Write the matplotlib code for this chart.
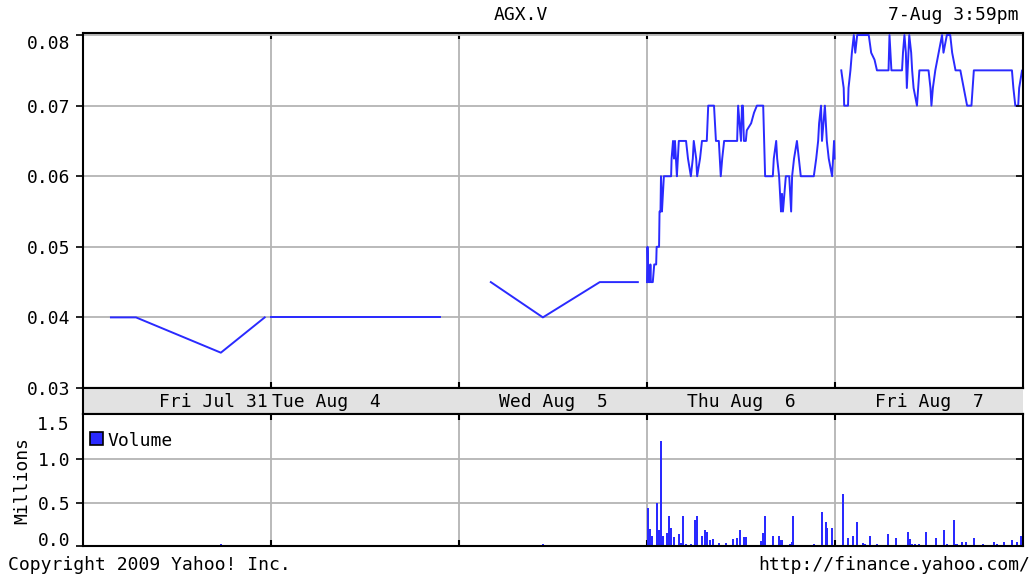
import numpy as np
import matplotlib.pyplot as plt
from matplotlib.patches import Rectangle

# trade times are minutes after the 9:30 open, one list per trading day
day_names = ["Fri Jul 31", "Tue Aug  4", "Wed Aug  5", "Thu Aug  6", "Fri Aug  7"]
session_len = 390

jul31_t = [58, 110, 286, 377]
jul31_p = [0.04, 0.04, 0.035, 0.04]
aug4_t = [0, 350]
aug4_p = [0.04, 0.04]
aug5_t = [66, 174, 292, 371]
aug5_p = [0.045, 0.04, 0.045, 0.045]
aug6_t = [0, 1, 3, 6, 7, 8, 12, 15, 19, 20, 25, 26, 28, 29, 31, 33, 35, 41, 50, 51,
          54, 56, 58, 60, 62, 66, 81, 85, 91, 95, 97, 102, 104, 110, 114, 124, 127, 139, 141, 143,
          149, 153, 156, 160, 187, 189, 195, 197, 199, 201, 205, 207, 216, 222, 228, 241, 243, 245, 261, 263,
          268, 270, 274, 278, 280, 282, 288, 295, 299, 301, 305, 311, 315, 319, 346, 351, 355, 357, 361, 363,
          369, 373, 377, 384, 388, 389]
aug6_p = [.045, .05, .045, .045, .0475, .045, .045, .0475, .0475, .05,
          .05, .055, .055, .06, .055, .0575, .06, .06, .06, .0625,
          .065, .0625, .065, .0625, .06, .065, .065, .0625, .06, .0625,
          .065, .0625, .06, .0625, .065, .065, .07, .07, .0675, .065,
          .065, .06, .0625, .065, .065, .07, .065, .07, .07, .065,
          .065, .0665, .0675, .069, .07, .07, .065, .06, .06, .0625,
          .065, .0625, .06, .055, .0575, .055, .06, .06, .055, .06,
          .0625, .065, .0625, .06, .06, .0625, .065, .0675, .07, .065,
          .07, .065, .0625, .06, .065, .0625]
aug7_t = [13, 18, 19, 27, 28, 32, 35, 39, 42, 46, 70, 75, 82, 87, 111, 113, 117, 139, 141, 144,
          147, 149, 154, 158, 160, 163, 170, 175, 194, 198, 200, 203, 208, 215, 222, 225, 232, 239, 243, 250,
          260, 267, 274, 283, 288, 367, 370, 374, 380, 382, 388, 390]
aug7_p = [.075, .0725, .07, .07, .0725, .075, .0775, .08, .0775, .08,
          .08, .0775, .0765, .075, .075, .08, .075, .075, .0775, .08,
          .0775, .0725, .08, .0775, .075, .0725, .07, .075, .075, .0725,
          .07, .0725, .075, .0775, .08, .0775, .08, .08, .0775, .075,
          .075, .0725, .07, .07, .075, .075, .0725, .07, .07, .0725,
          .075, .075]

# volume in millions
jul31_vt = [58, 70, 286]
jul31_v = [0.01, 0.01, 0.02]
aug4_vt = [350]
aug4_v = [0.01]
aug5_vt = [174]
aug5_v = [0.02]
aug6_vt = [3, 6, 10, 20, 25, 30, 33, 42, 46, 50, 55, 66, 70, 75, 80, 92, 99, 104, 115, 120,
           125, 131, 137, 149, 163, 179, 186, 192, 201, 205, 237, 241, 245, 262, 274, 279, 297, 301, 303, 346,
           362, 371, 374, 383]
aug6_v = [0.44, 0.20, 0.11, 0.49, 0.18, 1.21, 0.11, 0.15, 0.34, 0.21,
          0.10, 0.14, 0.03, 0.34, 0.02, 0.02, 0.30, 0.34, 0.11, 0.19,
          0.16, 0.07, 0.08, 0.04, 0.03, 0.08, 0.09, 0.18, 0.10, 0.10,
          0.06, 0.15, 0.34, 0.11, 0.11, 0.07, 0.02, 0.05, 0.34, 0.02,
          0.39, 0.28, 0.21, 0.21]
aug7_vt = [17, 26, 38, 46, 59, 62, 73, 88, 109, 126, 151, 155, 159, 165, 175, 189, 209, 226, 233, 247,
           252, 264, 271, 288, 306, 330, 337, 351, 368, 377, 386]
aug7_v = [0.60, 0.09, 0.11, 0.28, 0.04, 0.02, 0.11, 0.02, 0.14, 0.09,
          0.16, 0.08, 0.02, 0.02, 0.02, 0.16, 0.09, 0.18, 0.02, 0.30,
          0.02, 0.05, 0.05, 0.09, 0.02, 0.05, 0.02, 0.05, 0.07, 0.05,
          0.11]

price_days = [(jul31_t, jul31_p), (aug4_t, aug4_p), (aug5_t, aug5_p), (aug6_t, aug6_p), (aug7_t, aug7_p)]
vol_days = [(jul31_vt, jul31_v), (aug4_vt, aug4_v), (aug5_vt, aug5_v), (aug6_vt, aug6_v), (aug7_vt, aug7_v)]
price_ticks = [0.03, 0.04, 0.05, 0.06, 0.07, 0.08]
vol_ticks = [0.0, 0.5, 1.0]

plt.rcParams['font.family'] = 'DejaVu Sans Mono'
plt.rcParams['font.size'] = 13

blue = '#2a2aff'
grid_c = '#b4b4b4'
n_days = len(day_names)
xmax = n_days * session_len
bounds = [i * session_len for i in range(1, n_days)]

fig = plt.figure(figsize=(10.32, 5.77), dpi=100)
ax = fig.add_axes([0.0804, 0.3276, 0.9109, 0.6153])
band = fig.add_axes([0.0804, 0.2825, 0.9109, 0.0451])
axv = fig.add_axes([0.0804, 0.0537, 0.9109, 0.2288])


def style(a):
    for s in a.spines.values():
        s.set_linewidth(1.5)
        s.set_color('black')
    a.set_xlim(0, xmax)
    a.set_xticks(bounds)
    a.set_xticklabels([])
    a.tick_params(axis='x', direction='in', top=True, bottom=True, length=4, width=1.5)
    a.tick_params(axis='y', direction='out', left=True, length=5, width=1.2, pad=4)
    a.grid(True, color=grid_c, linewidth=1.3)
    a.set_axisbelow(True)


# price panel
style(ax)
for i, (t, p) in enumerate(price_days):
    ax.plot(np.array(t) + i * session_len, p, color=blue, linewidth=1.4)
ax.set_ylim(0.03, 0.0803)
ax.set_yticks(price_ticks)
ax.set_yticklabels(['%.2f' % v for v in price_ticks])
ax.yaxis.get_major_ticks()[-1].label1.set_verticalalignment('top')
axr = ax.twinx()
axr.set_ylim(ax.get_ylim())
axr.set_yticks(price_ticks[1:-1])
axr.set_yticklabels([])
axr.tick_params(axis='y', direction='in', length=5, width=1.2)
for s in axr.spines.values():
    s.set_visible(False)

# date band
band.set_facecolor('#e2e2e2')
band.set_xlim(0, xmax)
band.set_ylim(0, 1)
band.set_xticks([])
band.set_yticks([])
for s in band.spines.values():
    s.set_linewidth(1.5)
band.spines['right'].set_visible(False)
band.text(session_len - 6, 0.45, day_names[0], ha='right', va='center')
band.text(session_len + 2, 0.45, day_names[1], ha='left', va='center')
for i in range(2, n_days):
    band.text((i + 0.5) * session_len, 0.45, day_names[i], ha='center', va='center')

# volume panel
style(axv)
for i, (t, v) in enumerate(vol_days):
    axv.bar(np.array(t) + i * session_len, v, width=4.2, color=blue, linewidth=0, antialiased=False)
axv.set_ylim(0, 1.52)
axv.set_yticks(vol_ticks)
axv.set_yticklabels(['%.1f' % v for v in vol_ticks])
axv.yaxis.get_major_ticks()[0].label1.set_verticalalignment('baseline')
axv.text(-0.014, 1.5, '1.5', transform=axv.get_yaxis_transform(), ha='right', va='top')
axvr = axv.twinx()
axvr.set_ylim(axv.get_ylim())
axvr.set_yticks([0.5, 1.0])
axvr.set_yticklabels([])
axvr.tick_params(axis='y', direction='in', length=5, width=1.2)
for s in axvr.spines.values():
    s.set_visible(False)
axv.add_patch(Rectangle((0.0074, 0.765), 0.0138, 0.098, transform=axv.transAxes,
                        facecolor=blue, edgecolor='black', linewidth=1.2, clip_on=False))
axv.text(0.0266, 0.795, 'Volume', transform=axv.transAxes, ha='left', va='center')

fig.text(22 / 1032, 1 - 480 / 577, 'Millions', rotation=90, ha='center', va='center')
fig.text(521 / 1032, 1 - 15 / 577, 'AGX.V', ha='center', va='center')
fig.text(1018 / 1032, 1 - 15 / 577, '7-Aug 3:59pm', ha='right', va='center')
fig.text(8 / 1032, 1 - 565 / 577, 'Copyright 2009 Yahoo! Inc.', ha='left', va='center')
fig.text(1030 / 1032, 1 - 565 / 577, 'http://finance.yahoo.com/', ha='right', va='center')

fig.savefig('out.png', dpi=100)
